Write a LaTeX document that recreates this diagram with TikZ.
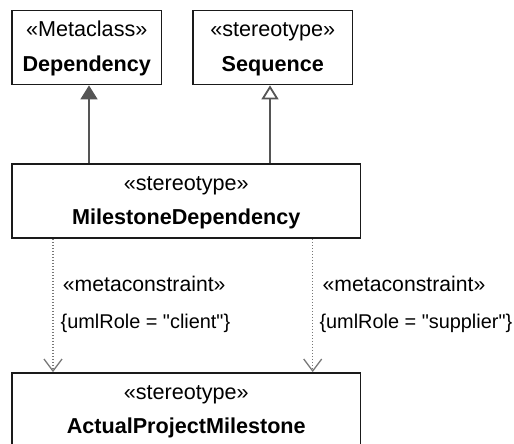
\documentclass[tikz,border=0pt]{standalone}
\usepackage{fontspec}
\setmainfont{Liberation Sans}[Ligatures=TeXOff]
\usetikzlibrary{arrows.meta}
\definecolor{boxline}{HTML}{1A1A1A}
\definecolor{arrline}{HTML}{555555}
\definecolor{dotline}{HTML}{777777}
\tikzset{
  umlbox/.style={draw=boxline, line width=1.8pt, minimum height=74pt, inner sep=0pt, fill=white},
  boxtxt/.style={anchor=base, inner sep=0pt, font=\fontsize{21.6}{24}\selectfont},
  boldtxt/.style={anchor=base, inner sep=0pt, font=\fontsize{21.6}{24}\selectfont\bfseries},
  lbltxt/.style={anchor=base west, inner sep=0pt, font=\fontsize{21.2}{24}\selectfont},
  cnstxt/.style={anchor=base west, inner sep=0pt, font=\fontsize{19.9}{24}\selectfont},
  genfilled/.style={draw=arrline, line width=1.8pt, -{Triangle[length=14pt,width=17pt,fill=arrline]}},
  genopen/.style={draw=arrline, line width=1.8pt, -{Triangle[open,length=14pt,width=17pt,fill=white]}},
  metadep/.style={draw=dotline, line width=1.2pt, dash pattern=on 1.5pt off 1.5pt, -{Straight Barb[length=12pt,width=18pt,line width=1.3pt]}}
}
\begin{document}
\begin{tikzpicture}[x=1pt,y=-1pt]
\useasboundingbox (0,0) rectangle (514,444);
% boxes
\node[umlbox, minimum width=149.5pt] (dep) at (86.75,47.5) {};
\node[umlbox, minimum width=159.5pt] (seq) at (272.75,47.5) {};
\node[umlbox, minimum width=348.5pt] (mid) at (186.25,201) {};
\node[umlbox, minimum width=348.5pt] (bot) at (186.25,410) {};
% texts
\node[boxtxt] (t1) at (86.75,36.7) {«Metaclass»};
\node[boldtxt] (t2) at (86.75,71.5) {Dependency};
\node[boxtxt] (t3) at (272.75,36.7) {«stereotype»};
\node[boldtxt] (t4) at (272.75,71.5) {Sequence};
\node[boxtxt] (t5) at (186.25,190) {«stereotype»};
\node[boldtxt] (t6) at (186.25,224.5) {MilestoneDependency};
\node[boxtxt] (t7) at (186.25,399) {«stereotype»};
\node[boldtxt] (t8) at (186.25,433.5) {ActualProjectMilestone};
% connector columns
\coordinate (cx1) at (89,0);
\coordinate (cx2) at (270,0);
\coordinate (cx3) at (53,0);
\coordinate (cx4) at (312.7,0);
\draw[genfilled] (mid.north -| cx1) -- (dep.south -| cx1);
\draw[genopen] (mid.north -| cx2) -- (seq.south -| cx2);
\draw[metadep] (mid.south -| cx3) -- (bot.north -| cx3);
\draw[metadep] (mid.south -| cx4) -- (bot.north -| cx4);
% labels
\node[lbltxt] (l1) at (62.7,291.5) {«metaconstraint»};
\node[cnstxt] (l2) at (60.5,328.5) {\{umlRole = "client"\}};
\node[lbltxt] (l3) at (322.5,291.5) {«metaconstraint»};
\node[cnstxt] (l4) at (319.3,328.5) {\{umlRole = "supplier"\}};
\end{tikzpicture}
\end{document}
